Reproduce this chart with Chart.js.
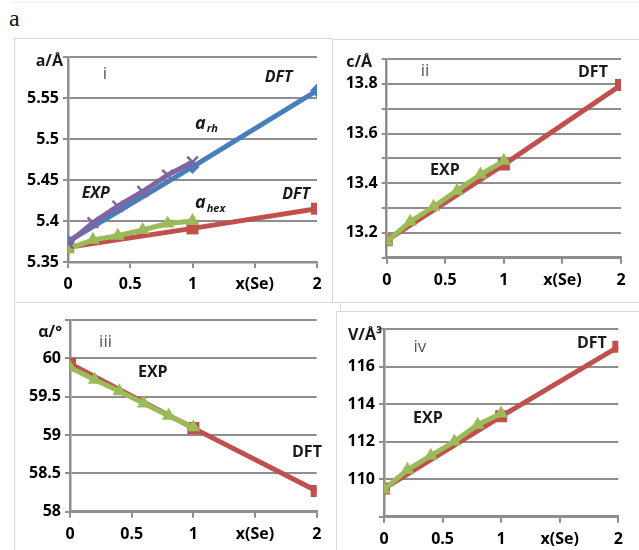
<!DOCTYPE html>
<html>
<head>
<meta charset="utf-8">
<script src="https://cdn.jsdelivr.net/npm/chart.js@4"></script>
<style>
  body { margin: 0; background: #fff; width: 639px; height: 550px; overflow: hidden; position: relative; font-family: "Open Sans", sans-serif; }
  .box { position: absolute; border: 1px solid #d9d9d9; background: #fff; box-sizing: border-box; }
  canvas { position: absolute; }
  #fig-label { position: absolute; left: 9px; top: 5px; font: 24px "Liberation Serif", serif; color: #111; }
  #top-strip { position: absolute; left: 12px; top: 2px; width: 630px; border-top: 1px solid #eeeeee; }
</style>
</head>
<body>
<div id="top-strip"></div>
<div id="fig-label">a</div>

<div class="box" style="left:14px;top:38px;width:319px;height:265px;"></div>
<div class="box" style="left:332px;top:39px;width:320px;height:264px;"></div>
<div class="box" style="left:14px;top:302px;width:327px;height:260px;"></div>
<div class="box" style="left:336px;top:311px;width:320px;height:250px;"></div>

<canvas id="chart1" width="317" height="262" style="left:15px;top:39px;"></canvas>
<canvas id="chart2" width="306" height="261" style="left:333px;top:40px;"></canvas>
<canvas id="chart3" width="320" height="247" style="left:15px;top:303px;"></canvas>
<canvas id="chart4" width="302" height="238" style="left:337px;top:312px;"></canvas>

<script>
// x(Se) positions
const xExp = [0, 0.2, 0.4, 0.6, 0.8, 1];
const xDft = [0, 1, 2];
const xTicks = ['0', '0.5', '1', 'x(Se)', '2'];

// panel i : a lattice parameter
const aRhDft = [5.375, 5.466, 5.559];
const aRhExp = [5.373, 5.398, 5.418, 5.436, 5.456, 5.472];
const aHexDft = [5.368, 5.391, 5.415];
const aHexExp = [5.366, 5.377, 5.382, 5.389, 5.397, 5.400];

// panel ii : c lattice parameter
const cDft = [13.17, 13.475, 13.795];
const cExp = [13.165, 13.245, 13.305, 13.37, 13.435, 13.49];

// panel iii : rhombohedral angle
const alphaDft = [59.93, 59.09, 58.27];
const alphaExp = [59.88, 59.72, 59.57, 59.41, 59.25, 59.10];

// panel iv : volume
const volDft = [109.5, 113.35, 117.05];
const volExp = [109.45, 110.5, 111.25, 112.0, 112.9, 113.5];

const BLUE = '#4a7ebb', RED = '#c0504d', GREEN = '#9bbb59', PURPLE = '#8064a2';
const GRID = '#8e8e8e';
const TICK_FONT = { family: '"Open Sans", sans-serif', size: 16, weight: 'bold' };

const pts = (xs, ys) => xs.map((x, i) => ({ x: x, y: ys[i] }));

function series(data, color, shape, radius) {
  return {
    data: data,
    borderColor: color,
    backgroundColor: color,
    borderWidth: 5,
    pointStyle: shape,
    pointRadius: radius,
    pointBackgroundColor: color,
    pointBorderColor: color,
    pointBorderWidth: shape === 'crossRot' ? 2.5 : 0,
    tension: 0
  };
}

// text labels drawn in data units
const notesPlugin = {
  id: 'notes',
  afterDatasetsDraw(chart, args, opts) {
    const ctx = chart.ctx;
    const sx = chart.scales.x, sy = chart.scales.y;
    (opts.items || []).forEach(n => {
      ctx.save();
      ctx.font = n.font;
      ctx.fillStyle = n.color || '#1a1a1a';
      ctx.textAlign = n.align || 'left';
      ctx.textBaseline = 'middle';
      const px = sx.getPixelForValue(n.x), py = sy.getPixelForValue(n.y);
      ctx.fillText(n.text, px, py);
      if (n.sub) {
        const w = ctx.measureText(n.text).width;
        ctx.font = n.subFont;
        ctx.textAlign = 'left';
        ctx.fillText(n.sub, px + w + 1, py + 5);
      }
      ctx.restore();
    });
  }
};

function makePanel(id, area, datasets, yOpts, notes) {
  const cv = document.getElementById(id);
  const W = cv.width, H = cv.height;
  new Chart(cv, {
    type: 'line',
    data: { datasets: datasets },
    plugins: [notesPlugin],
    options: {
      responsive: false,
      animation: false,
      layout: { padding: { left: 0, top: area.t, right: W - area.r, bottom: 0 } },
      plugins: { legend: { display: false }, tooltip: { enabled: false }, notes: { items: notes } },
      scales: {
        x: {
          type: 'linear', min: 0, max: 2,
          afterFit: s => { s.height = H - area.b; },
          afterBuildTicks: s => { s.ticks = [0, 0.5, 1, 1.5, 2].map(v => ({ value: v })); },
          ticks: {
            font: TICK_FONT, color: '#000', padding: 7, maxRotation: 0, autoSkip: false,
            callback: (v, i) => xTicks[i]
          },
          grid: { drawOnChartArea: false, drawTicks: true, tickLength: 6, color: GRID, lineWidth: 2 },
          border: { color: GRID, width: 2.5 }
        },
        y: {
          type: 'linear', min: yOpts.min, max: yOpts.max,
          afterFit: s => { s.width = area.l; },
          ticks: {
            stepSize: yOpts.step, font: TICK_FONT, color: '#000', padding: 4, autoSkip: false,
            callback: v => yOpts.show(v) ? String(Number(v.toFixed(2))) : ''
          },
          grid: { color: GRID, lineWidth: 2, tickLength: 5 },
          border: { color: GRID, width: 2.5 }
        }
      }
    }
  });
}

const boldIt = 'italic bold 16px "Open Sans", sans-serif';
const bold = 'bold 16px "Open Sans", sans-serif';
const roman = '17px "Open Sans", sans-serif';
const axisFont = 'bold 16px "Open Sans", sans-serif';

makePanel('chart1', { l: 53, t: 18, r: 302, b: 223 }, [
  series(pts(xExp, aRhExp), PURPLE, 'crossRot', 7.5),
  series(pts(xExp, aHexExp), GREEN, 'triangle', 8),
  series(pts(xDft, aRhDft), BLUE, 'rectRot', 7),
  series(pts(xDft, aHexDft), RED, 'rect', 8.5)
], { min: 5.35, max: 5.6, step: 0.05, show: v => v < 5.58 }, [
  { text: 'a/Å', x: -0.04, y: 5.594, align: 'right', font: axisFont },
  { text: 'i', x: 0.297, y: 5.579, align: 'center', font: roman, color: '#555' },
  { text: 'DFT', x: 1.58, y: 5.575, font: boldIt },
  { text: 'a', sub: 'rh', x: 1.02, y: 5.518, font: 'italic bold 18px "Open Sans", sans-serif', subFont: 'italic bold 11px "Open Sans", sans-serif' },
  { text: 'EXP', x: 0.11, y: 5.434, font: boldIt },
  { text: 'a', sub: 'hex', x: 1.02, y: 5.4215, font: 'italic bold 18px "Open Sans", sans-serif', subFont: 'italic bold 11px "Open Sans", sans-serif' },
  { text: 'DFT', x: 1.72, y: 5.432, font: boldIt }
]);

makePanel('chart2', { l: 53.7, t: 19, r: 288, b: 217.7 }, [
  series(pts(xExp, cExp), GREEN, 'triangle', 8),
  series(pts(xDft, cDft), RED, 'rect', 8.5)
], { min: 13.1, max: 13.9, step: 0.1, show: v => Math.round(v * 10) % 2 === 0 && v < 13.85 }, [
  { text: 'c/Å', x: -0.125, y: 13.885, align: 'right', font: axisFont },
  { text: 'ii', x: 0.327, y: 13.853, align: 'center', font: roman, color: '#555' },
  { text: 'DFT', x: 1.633, y: 13.845, font: bold },
  { text: 'EXP', x: 0.37, y: 13.45, font: bold }
]);

makePanel('chart3', { l: 55, t: 17, r: 301.7, b: 208.7 }, [
  series(pts(xExp, alphaExp), GREEN, 'triangle', 8),
  series(pts(xDft, alphaDft), RED, 'rect', 8.5)
], { min: 58, max: 60.5, step: 0.5, show: v => v < 60.3 }, [
  { text: 'α/°', x: -0.065, y: 60.34, align: 'right', font: axisFont },
  { text: 'iii', x: 0.288, y: 60.21, align: 'center', font: roman, color: '#555' },
  { text: 'EXP', x: 0.551, y: 59.82, font: bold },
  { text: 'DFT', x: 1.80, y: 58.77, font: bold }
]);

makePanel('chart4', { l: 47, t: 17, r: 281.3, b: 204.7 }, [
  series(pts(xExp, volExp), GREEN, 'triangle', 8),
  series(pts(xDft, volDft), RED, 'rect', 8.5)
], { min: 108, max: 118, step: 2, show: v => v > 109 && v < 117 }, [
  { text: 'V/Å³', x: -0.017, y: 117.66, align: 'right', font: axisFont },
  { text: 'iv', x: 0.307, y: 117.04, align: 'center', font: roman, color: '#555' },
  { text: 'EXP', x: 0.248, y: 113.25, font: bold },
  { text: 'DFT', x: 1.647, y: 117.24, font: bold }
]);
</script>
</body>
</html>
